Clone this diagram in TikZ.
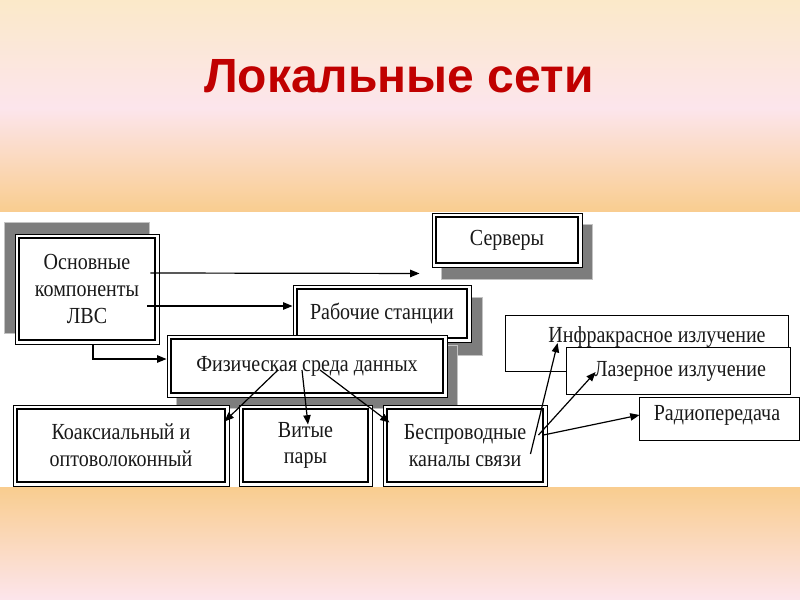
\documentclass[tikz,border=0pt]{standalone}
\usepackage{fontspec}
\setmainfont{Liberation Serif}
\newfontfamily\titlefont{Liberation Sans}
\newfontfamily\boxfont[FakeStretch=0.87]{Liberation Serif}
\usetikzlibrary{arrows.meta,backgrounds,calc}
\definecolor{bgpeach}{RGB}{251,233,201}
\definecolor{bgpink}{RGB}{252,229,236}
\definecolor{bgorange}{RGB}{249,205,143}
\definecolor{titlered}{RGB}{192,0,0}
\definecolor{shdfill}{RGB}{125,125,125}
\definecolor{shdline}{RGB}{195,195,195}
\definecolor{boxtext}{RGB}{25,25,25}
\tikzset{
  dbox/.style={draw=black, line width=0.7pt, fill=white, inner sep=0pt, align=center,
    text=boxtext, font=\boxfont\fontsize{17.25}{20}\selectfont,
    path picture={\draw[line width=1.4pt]
      ([shift={(3pt,3pt)}]path picture bounding box.south west) rectangle
      ([shift={(-3pt,-3pt)}]path picture bounding box.north east);}},
  sbox/.style={draw=black, line width=0.6pt, fill=white, inner sep=0pt},
  lbl/.style={inner sep=0pt, text=boxtext, font=\boxfont\fontsize{17.25}{20}\selectfont},
  shd/.style={fill=shdfill, draw=shdline, line width=1.2pt},
  arr/.style={draw=black, line width=0.9pt, -{Triangle[length=7pt,width=5.5pt]}}
}
\begin{document}
\begin{tikzpicture}[x=0.75pt,y=-0.75pt]
\useasboundingbox (0,0) rectangle (800,600);
% backgrounds
\begin{scope}[on background layer]
\shade[top color=bgpeach, bottom color=bgpink] (0,0) rectangle (800,108);
\shade[top color=bgpink, bottom color=bgorange] (0,108) rectangle (800,212);
\fill[white] (0,212) rectangle (800,487);
\shade[top color=bgorange, bottom color=bgpink] (0,487) rectangle (800,600);
\end{scope}
% title
\node[anchor=base, text=titlered, font=\titlefont\bfseries\fontsize{36}{40}\selectfont] (title) at (399,92) {Локальные сети};
% boxes
\node[dbox, minimum width=108pt, minimum height=82.5pt] (osn) at (87,289) {Основные\\компоненты\\ЛВС};
\node[dbox, minimum width=112.5pt, minimum height=40.5pt] (sv) at (507,240) {Серверы};
\node[dbox, minimum width=133.5pt, minimum height=42.75pt] (rs) at (382,313.5) {Рабочие станции};
\node[dbox, minimum width=210pt, minimum height=46.5pt] (fiz) at (307,366) {Физическая среда данных};
\node[dbox, minimum width=162pt, minimum height=60.75pt] (koax) at (121,445.5) {Коаксиальный и\\оптоволоконный};
\node[dbox, minimum width=99.75pt, minimum height=60.75pt] (vit) at (305.5,445.5) {Витые\\пары};
\node[dbox, minimum width=123pt, minimum height=60.75pt] (bes) at (465,445.5) {Беспроводные\\каналы связи};
\node[sbox, minimum width=212.25pt, minimum height=42pt] (ir) at (646.5,343) {};
\node[lbl] (irt) at (657,337) {Инфракрасное излучение};
\node[sbox, minimum width=168pt, minimum height=35.25pt] (las) at (678,370.5) {};
\node[lbl] (last) at (680,371) {Лазерное излучение};
\node[sbox, minimum width=120pt, minimum height=32.25pt] (rad) at (719,418.5) {};
\node[lbl] (radt) at (717,415) {Радиопередача};
% shadows
\begin{scope}[on background layer]
  \path[shd] ($(osn.north west)+(-10,-11)$) rectangle ($(osn.south east)+(-10,-11)$);
  \path[shd] ($(sv.north west)+(10,12)$) rectangle ($(sv.south east)+(10,12)$);
  \path[shd] ($(rs.north west)+(11,13)$) rectangle ($(rs.south east)+(11,13)$);
  \path[shd] ($(fiz.north west)+(10,11)$) rectangle ($(fiz.south east)+(10,11)$);
\end{scope}
% connectors
\draw[arr] ([shift={(-9,-16)}]osn.east) -- ([shift={(-12,6)}]sv.south west);
\draw[arr] ([shift={(-12,17)}]osn.east) -- ([shift={(0,-7.5)}]rs.west);
\draw[arr] ([shift={(6,0)}]osn.south) |- ([shift={(0,-7)}]fiz.west);
\draw[arr] ([shift={(-29,4)}]fiz.center) -- ([shift={(-5,17)}]koax.north east);
\draw[arr] ([shift={(-5,4)}]fiz.center) -- ([shift={(2.5,20)}]vit.north);
\draw[arr] ([shift={(13,4)}]fiz.center) -- ([shift={(7,18)}]bes.north west);
\draw[arr] ([shift={(-17,8.5)}]bes.east) -- ([shift={(53,0)}]ir.west);
\draw[arr] ([shift={(-9,-10.5)}]bes.east) -- ([shift={(30,1.5)}]las.west);
\draw[arr] ([shift={(-4,-10.5)}]bes.east) -- ([shift={(1,-3.5)}]rad.west);
\end{tikzpicture}
\end{document}
